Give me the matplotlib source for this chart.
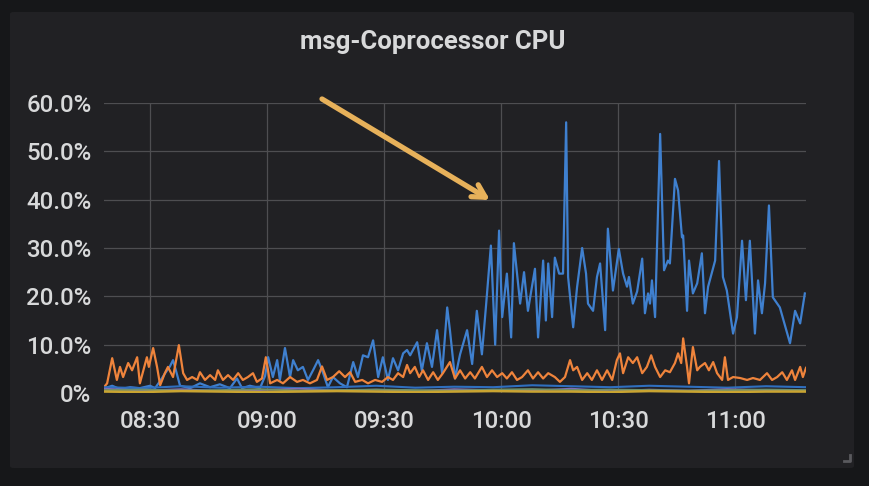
import matplotlib
matplotlib.use("Agg")
import matplotlib.pyplot as plt
from matplotlib.patches import FancyBboxPatch
from matplotlib.lines import Line2D

# ---------------- data ----------------
title = "msg-Coprocessor CPU"

# time axis: minutes since 08:00
x_range = [18.2, 198.2]
x_ticks = [30, 60, 90, 120, 150, 180]
x_tick_labels = ["08:30", "09:00", "09:30", "10:00", "10:30", "11:00"]
y_ticks = [0, 10, 20, 30, 40, 50, 60]
y_tick_labels = ["0%", "10.0%", "20.0%", "30.0%", "40.0%", "50.0%", "60.0%"]

blue_t = [18.5, 20.3, 22.3, 24.9, 27.4, 30.0, 31.3, 32.6, 33.8, 35.1, 35.9, 36.7, 37.7,
          40.3, 42.8, 45.4, 47.9, 50.5, 52.3, 53.6, 55.6, 58.2, 59.5, 60.3, 61.5, 62.6,
          63.3, 64.6, 65.9, 66.7, 67.9, 69.2, 70.5, 71.8, 73.1, 74.4, 75.6, 76.9, 78.7,
          80.5, 82.1, 83.3, 84.6, 85.9, 87.2, 88.5, 89.7, 91.0, 92.3, 93.6, 94.9, 95.9,
          96.7, 98.5, 99.7, 101.0, 102.3, 103.6, 104.9, 106.2, 106.9, 108.2, 109.5, 111.3,
          112.6, 113.8, 115.1, 116.2, 117.4, 118.5, 119.5, 120.3, 121.5, 122.6, 123.3,
          124.9, 125.9, 126.9, 128.7, 129.5, 130.8, 131.5, 132.1, 133.1, 133.8, 134.9,
          135.9, 136.7, 137.2, 137.9, 138.5, 139.5, 140.8, 141.8, 142.3, 143.6, 144.6,
          145.4, 146.7, 147.4, 148.7, 150.2, 151.3, 152.3, 152.8, 153.8, 154.9, 156.2,
          156.9, 157.7, 158.2, 158.7, 159.5, 160.8, 161.8, 162.8, 163.3, 164.6, 165.4,
          166.4, 166.7, 167.7, 168.2, 169.2, 170.3, 171.5, 172.3, 173.1, 174.9, 175.9,
          176.9, 177.9, 179.5, 180.5, 181.8, 182.8, 183.8, 185.1, 185.9, 186.9, 187.7,
          188.7, 189.7, 191.5, 194.1, 195.4, 196.7, 197.9]
blue_v = [1.0, 1.5, 0.8, 1.2, 1.0, 1.5, 1.0, 2.5, 4.0, 5.5, 6.8, 4.5, 1.5,
          1.0, 2.0, 1.2, 1.8, 1.0, 3.0, 1.0, 1.5, 1.0, 3.5, 7.4, 3.3, 6.8,
          2.7, 9.3, 3.3, 6.8, 4.7, 5.4, 2.7, 4.7, 6.8, 4.1, 1.2, 3.3, 2.0,
          1.2, 6.4, 3.3, 7.8, 7.4, 10.9, 3.3, 7.4, 2.7, 7.2, 4.7, 8.2, 8.9,
          7.8, 10.5, 4.7, 10.3, 5.4, 13.0, 4.1, 17.7, 13.0, 3.0, 8.0, 13.0,
          6.0, 17.0, 8.0, 18.5, 30.5, 10.0, 33.6, 15.7, 24.7, 11.5, 31.0,
          18.5, 25.0, 17.0, 25.7, 11.5, 27.4, 15.0, 26.8, 15.7, 28.0, 24.7,
          24.7, 56.0, 24.0, 18.5, 13.6, 21.9, 30.0, 24.7, 18.5, 17.0, 24.0,
          26.8, 13.0, 34.0, 21.2, 29.8, 24.7, 22.0, 24.0, 18.5, 21.0, 27.8,
          16.5, 20.6, 18.5, 23.3, 15.7, 53.6, 25.4, 27.4, 26.8, 44.3, 41.9,
          32.2, 32.6, 17.0, 27.4, 20.6, 22.7, 28.9, 16.5, 22.0, 27.4, 48.0,
          24.0, 21.2, 12.3, 15.7, 31.5, 19.2, 31.5, 12.3, 23.3, 16.5, 22.7,
          38.8, 19.8, 17.7, 10.3, 17.0, 14.4, 20.6]

orange_t = [18.2, 19.0, 20.3, 21.5, 22.3, 23.1, 24.4, 25.4, 26.7, 27.4, 29.2, 29.7, 30.8,
            31.8, 32.6, 33.8, 34.6, 35.9, 37.4, 38.5, 39.5, 40.8, 42.1, 42.8, 44.1, 45.4,
            46.7, 47.4, 48.7, 50.0, 51.3, 52.6, 53.8, 55.1, 56.4, 57.4, 58.7, 59.7, 60.8,
            62.6, 64.1, 65.9, 67.7, 69.2, 71.0, 72.8, 74.1, 75.4, 76.9, 78.5, 80.0, 81.3,
            82.6, 84.4, 85.9, 87.7, 89.5, 91.0, 92.3, 93.6, 94.9, 95.9, 96.7, 97.9, 99.0,
            100.0, 101.3, 102.6, 103.8, 105.1, 106.9, 108.2, 109.5, 110.8, 112.1, 113.3,
            115.1, 116.4, 117.7, 119.0, 120.3, 121.5, 122.8, 124.1, 125.4, 126.9, 128.2,
            129.5, 130.8, 132.1, 133.8, 135.1, 136.4, 137.7, 138.5, 139.5, 140.8, 142.1,
            143.3, 144.6, 145.9, 147.2, 148.5, 149.7, 150.5, 151.3, 152.6, 153.8, 154.9,
            156.2, 157.4, 158.5, 159.5, 160.8, 162.1, 163.3, 164.6, 165.4, 166.2, 166.7,
            167.7, 168.2, 169.2, 170.3, 171.0, 172.3, 173.3, 174.4, 175.4, 176.7, 177.4,
            178.2, 179.5, 181.3, 183.1, 184.6, 186.4, 188.2, 189.5, 190.8, 192.1, 193.3,
            194.6, 195.4, 196.7, 197.4, 198.2]
orange_v = [1.2, 2.0, 7.2, 2.7, 5.4, 3.3, 6.2, 4.7, 7.4, 2.0, 7.4, 5.4, 9.3,
            5.4, 1.6, 4.1, 5.4, 3.3, 9.9, 4.1, 2.7, 3.3, 2.7, 4.3, 2.7, 3.7,
            2.7, 4.7, 2.7, 3.7, 2.7, 4.1, 2.7, 3.3, 4.1, 2.3, 3.0, 7.4, 2.0,
            2.7, 2.0, 3.3, 2.3, 2.7, 2.0, 2.7, 5.5, 2.7, 3.3, 4.5, 3.3, 4.3,
            2.3, 2.7, 2.0, 2.7, 2.3, 3.3, 2.7, 4.1, 3.3, 5.8, 4.1, 5.4, 3.3,
            4.7, 2.7, 4.3, 2.7, 4.1, 6.4, 3.0, 4.7, 3.0, 4.3, 3.0,
            5.4, 3.3, 4.7, 3.3, 4.1, 3.0, 4.3, 2.7, 3.3, 4.7, 3.0,
            4.3, 3.0, 4.1, 3.3, 2.3, 3.3, 6.8, 4.7, 5.4, 2.7, 4.1,
            2.7, 4.7, 2.7, 4.7, 2.7, 6.8, 8.2, 4.1, 7.4, 6.2, 7.4,
            4.1, 5.4, 7.8, 5.4, 3.3, 4.7, 4.3, 6.2, 8.2, 6.2, 11.3,
            5.4, 2.0, 9.5, 4.7, 5.4, 6.2, 4.7, 6.4, 4.1, 2.7, 7.4,
            2.7, 3.3, 3.1, 2.7, 3.1, 2.7, 4.1, 2.7, 3.3, 4.3, 2.7,
            4.7, 2.7, 5.4, 3.3, 5.2]

low_t = [18.2, 28, 38, 48, 58, 68, 78, 88, 98, 108, 118, 128, 138, 148, 158, 168, 178, 188, 198.2]
darkblue_v = [1.2, 1.0, 1.4, 1.1, 1.3, 1.0, 1.2, 1.5, 1.1, 1.3, 1.2, 1.6, 1.4, 1.2, 1.5, 1.3, 1.1, 1.4, 1.2]
purple_v = [0.9, 0.5, 0.8, 0.4, 0.6, 0.9, 0.5, 0.7, 0.4, 0.8, 0.6, 0.5, 0.9, 0.4, 0.7, 0.5, 0.8, 0.6, 0.5]
green_v = [0.6, 0.7, 0.5, 0.6, 0.8, 0.5, 0.6, 0.7, 0.6, 0.5, 0.7, 0.8, 0.6, 0.7, 0.6, 0.5, 0.6, 0.7, 0.6]
yellow_v = [0.3, 0.2, 0.4, 0.3, 0.2, 0.3, 0.4, 0.3, 0.2, 0.3, 0.4, 0.3, 0.3, 0.2, 0.4, 0.3, 0.2, 0.3, 0.3]

# ---------------- figure ----------------
W, H = 870, 486
fig = plt.figure(figsize=(W / 100, H / 100), dpi=100)
fig.patch.set_facecolor("#161719")

panel = FancyBboxPatch((10 / W, 1 - 468 / H), (854 - 10) / W, (468 - 12) / H,
                       boxstyle="round,pad=0,rounding_size=0.004",
                       transform=fig.transFigure, fc="#212124", ec="none", zorder=0)
fig.add_artist(panel)

ax = fig.add_axes([104 / W, 1 - 393 / H, (806 - 104) / W, (393 - 103) / H])
ax.set_facecolor("none")
for s in ax.spines.values():
    s.set_visible(False)

ax.plot(blue_t, blue_v, color="#3f80cf", lw=1.6, zorder=3)
ax.plot(orange_t, orange_v, color="#ef843c", lw=1.6, zorder=4)
ax.plot(low_t, darkblue_v, color="#2f6fbf", lw=1.5, zorder=5)
ax.plot(low_t, purple_v, color="#806eb7", lw=1.3, zorder=5)
ax.plot(low_t, green_v, color="#6f8f6a", lw=1.4, zorder=5)
ax.plot(low_t, yellow_v, color="#c9a431", lw=1.8, zorder=6)

ax.set_xlim(*x_range)
ax.set_ylim(0, 60)
ax.set_xticks(x_ticks)
ax.set_xticklabels(x_tick_labels)
ax.set_yticks(y_ticks)
ax.set_yticklabels(y_tick_labels)
ax.grid(True, color="#4e4e51", lw=0.9, zorder=1)
ax.set_axisbelow(True)
ax.tick_params(length=0, colors="#d8d9da", labelsize=17.3)
ax.tick_params(axis="y", pad=9)
ax.tick_params(axis="x", pad=12)
for lab in ax.get_xticklabels() + ax.get_yticklabels():
    lab.set_family("Roboto")
    lab.set_fontweight("medium")

fig.text(0.497, 1 - 42 / H, title, ha="center", va="center", fontsize=18.5,
         fontweight="bold", color="#d8d9da", family="Roboto")

# annotation arrow
ax.annotate("", xy=(490, H - 200), xycoords="figure pixels",
            xytext=(322, H - 99), textcoords="figure pixels",
            arrowprops=dict(arrowstyle="->,head_length=0.9,head_width=0.5",
                            color="#e7b15a", lw=3.8, capstyle="round",
                            joinstyle="round", shrinkA=0, shrinkB=0),
            annotation_clip=False)

# resize handle
fig.add_artist(Line2D([844 / W, 850 / W, 850 / W], [1 - 461 / H, 1 - 461 / H, 1 - 455 / H],
                      transform=fig.transFigure, color="#5a5a5e", lw=2))

fig.savefig("out.png", dpi=100, facecolor=fig.get_facecolor())
